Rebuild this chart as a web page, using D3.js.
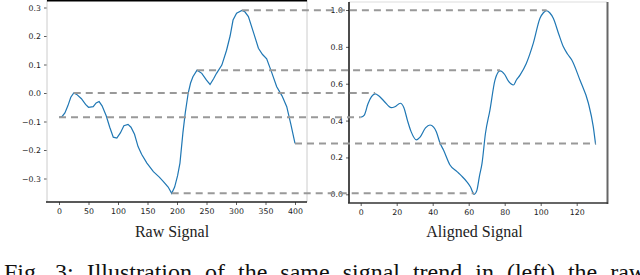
<!DOCTYPE html>
<html>
<head>
<meta charset="utf-8">
<title>Raw vs aligned signal</title>
<script src="https://cdn.jsdelivr.net/npm/d3@7"></script>
<style>
  body { margin: 0; background: #fff; }
  svg { display: block; }
</style>
</head>
<body>
<script>
// raw signal
const rawX = [0, 5, 10, 15, 20, 25, 30, 38, 45, 50, 58, 63, 68, 73, 80, 86, 92, 98, 104, 110,
  117, 122, 128, 134, 140, 149, 160, 170, 177, 185, 191, 196, 201, 205, 210, 214, 219, 223, 227, 234,
  242, 250, 256, 262, 267, 276, 284, 290, 295, 301, 310, 315, 321, 330, 338, 345, 352, 360, 369, 378,
  386, 393, 400];
const rawY = [-0.085, -0.083, -0.07, -0.045, -0.015, 0.0, -0.005, -0.02, -0.04, -0.05, -0.048, -0.035, -0.03, -0.045, -0.08, -0.12, -0.155, -0.158, -0.14, -0.115,
  -0.11, -0.12, -0.145, -0.188, -0.215, -0.246, -0.276, -0.295, -0.311, -0.33, -0.352, -0.33, -0.29, -0.246, -0.14, -0.07, 0.0, 0.035, 0.057, 0.08,
  0.069, 0.045, 0.03, 0.05, 0.069, 0.098, 0.15, 0.2, 0.256, 0.28, 0.29, 0.285, 0.268, 0.21, 0.157, 0.135, 0.12, 0.075, 0.022, -0.01,
  -0.048, -0.11, -0.177];

// aligned (normalised, resampled) signal, right panel
const alignX = [0, 2, 4, 6, 8, 10, 13, 17, 19, 22, 24, 26, 28, 31, 33, 36, 38.5, 40.5, 42, 44,
  46, 49.6, 53.5, 56, 59, 61, 63, 64.5, 66, 67.4, 69.3, 71.8, 74.6, 77.4, 80, 82, 84.8, 86.5, 88.5, 92,
  95.9, 99.6, 101.5, 103.3, 105, 107, 110, 112.6, 115, 117.2, 121.8, 126.5, 129.2, 130.5];
const alignY = [0.418, 0.43, 0.49, 0.53, 0.545, 0.535, 0.505, 0.47, 0.475, 0.494, 0.47, 0.40, 0.34, 0.295, 0.31, 0.36, 0.376, 0.365, 0.34, 0.28,
  0.24, 0.159, 0.123, 0.10, 0.068, 0.04, 0.0, 0.02, 0.10, 0.168, 0.33, 0.457, 0.62, 0.67, 0.65, 0.615, 0.593, 0.62, 0.647, 0.71,
  0.82, 0.955, 0.985, 0.996, 0.985, 0.955, 0.87, 0.80, 0.76, 0.73, 0.62, 0.494, 0.367, 0.27];

// matching points joined by dashed lines
const linkRawX = [310, 234, 25, 0, 400, 191];
const linkRawY = [0.29, 0.08, 0.0, -0.085, -0.177, -0.352];
const linkAlignX = [103.3, 77.4, 8, 0, 130.5, 63];

const rawTicksX = [0, 50, 100, 150, 200, 250, 300, 350, 400];
const rawTicksY = [-0.3, -0.2, -0.1, 0.0, 0.1, 0.2, 0.3];
const alignTicksX = [0, 20, 40, 60, 80, 100, 120];
const alignTicksY = [0.0, 0.2, 0.4, 0.6, 0.8, 1.0];

const w = 640, h = 275;
const svg = d3.select("body").append("svg").attr("width", w).attr("height", h);

// scales
const xRaw = d3.scaleLinear().domain([0, 400]).range([59, 295]);
const yRaw = d3.scaleLinear().domain([-0.3, 0.3]).range([178.5, 7.5]);
const xAl = d3.scaleLinear().domain([0, 120]).range([360.7, 576.7]);
const yAl = d3.scaleLinear().domain([0, 1]).range([194.3, 10]);

const tickFont = "DejaVu Sans, sans-serif";

function styleAxis(g) {
  g.select(".domain").remove();
  g.selectAll(".tick line").attr("stroke", "#333").attr("stroke-width", 0.8);
  g.selectAll(".tick text").attr("fill", "#222").style("font-family", tickFont).style("font-size", "7.8px");
}

// ---- left panel ----
svg.append("g").attr("transform", "translate(0,202)")
  .call(d3.axisBottom(xRaw).tickValues(rawTicksX).tickSize(3).tickPadding(3).tickFormat(d3.format("d")))
  .call(styleAxis);
svg.append("g").attr("transform", "translate(47,0)")
  .call(d3.axisLeft(yRaw).tickValues(rawTicksY).tickSize(3).tickPadding(3).tickFormat(d3.format(".1f")))
  .call(styleAxis);

// frame of the left panel
svg.append("line").attr("x1", 47).attr("x2", 47).attr("y1", 0).attr("y2", 202).attr("stroke", "#ccc").attr("stroke-width", 1);
svg.append("line").attr("x1", 307).attr("x2", 307).attr("y1", 0).attr("y2", 202).attr("stroke", "#ccc").attr("stroke-width", 1);
svg.append("line").attr("x1", 46).attr("x2", 307).attr("y1", 202).attr("y2", 202).attr("stroke", "#222").attr("stroke-width", 1.5);
svg.append("line").attr("x1", 47).attr("x2", 307).attr("y1", 0.5).attr("y2", 0.5).attr("stroke", "#000").attr("stroke-width", 2);

const rawLine = d3.line().x(function(d, i) { return xRaw(rawX[i]); }).y(function(d) { return yRaw(d); });
svg.append("path").datum(rawY).attr("d", rawLine)
  .attr("fill", "none").attr("stroke", "#1f77b4").attr("stroke-width", 1.2);

// ---- right panel ----
svg.append("g").attr("transform", "translate(0,203)")
  .call(d3.axisBottom(xAl).tickValues(alignTicksX).tickSize(3).tickPadding(3).tickFormat(d3.format("d")))
  .call(styleAxis);
svg.append("g").attr("transform", "translate(349,0)")
  .call(d3.axisLeft(yAl).tickValues(alignTicksY).tickSize(3).tickPadding(3).tickFormat(d3.format(".1f")))
  .call(styleAxis);

svg.append("line").attr("x1", 349).attr("x2", 607).attr("y1", 2).attr("y2", 2).attr("stroke", "#ddd").attr("stroke-width", 1);
svg.append("line").attr("x1", 349).attr("x2", 349).attr("y1", 2).attr("y2", 203).attr("stroke", "#111").attr("stroke-width", 1.5);
svg.append("line").attr("x1", 607.5).attr("x2", 607.5).attr("y1", 2).attr("y2", 204).attr("stroke", "#666").attr("stroke-width", 2);
svg.append("line").attr("x1", 348).attr("x2", 608).attr("y1", 203).attr("y2", 203).attr("stroke", "#333").attr("stroke-width", 1.5);

const alLine = d3.line().curve(d3.curveMonotoneX)
  .x(function(d, i) { return xAl(alignX[i]); }).y(function(d) { return yAl(d); });
svg.append("path").datum(alignY).attr("d", alLine)
  .attr("fill", "none").attr("stroke", "#1f77b4").attr("stroke-width", 1.2);

// ---- dashed links ----
svg.selectAll("line.link")
  .data(linkRawY)
  .enter()
  .append("line")
  .attr("class", "link")
  .attr("x1", function(d, i) { return xRaw(linkRawX[i]); })
  .attr("x2", function(d, i) { return xAl(linkAlignX[i]); })
  .attr("y1", function(d) { return yRaw(d); })
  .attr("y2", function(d) { return yRaw(d); })
  .attr("stroke", "#999")
  .attr("stroke-width", 2)
  .attr("stroke-dasharray", "7,5");

// ---- labels ----
svg.append("text").attr("x", 172).attr("y", 237).attr("text-anchor", "middle")
  .style("font-family", "Liberation Serif, Times New Roman, serif").style("font-size", "16px").attr("fill", "#222")
  .text("Raw Signal");
svg.append("text").attr("x", 474.5).attr("y", 237).attr("text-anchor", "middle")
  .style("font-family", "Liberation Serif, Times New Roman, serif").style("font-size", "16px").attr("fill", "#222")
  .text("Aligned Signal");

// caption, cut by the bottom edge as in the scan
svg.append("text").attr("x", 4).attr("y", 280)
  .style("font-family", "Liberation Serif, Times New Roman, serif").style("font-size", "24px").attr("fill", "#111")
  .style("word-spacing", "7px")
  .text("Fig. 3: Illustration of the same signal trend in (left) the raw");
</script>
</body>
</html>
